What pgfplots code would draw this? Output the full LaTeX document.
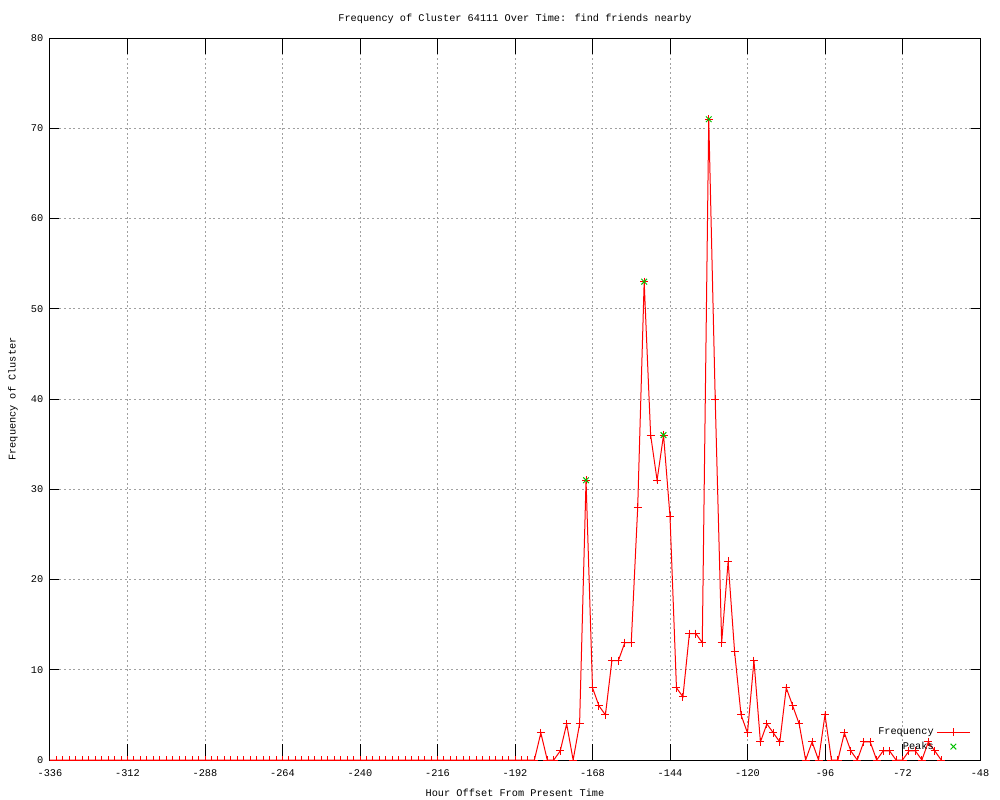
\documentclass[border=0pt]{standalone}
\usepackage{fontspec}
\setmainfont{Liberation Mono}
\usepackage{pgfplots}
\pgfplotsset{compat=1.18}
\definecolor{gpred}{RGB}{255,0,0}
\definecolor{gpgreen}{RGB}{0,192,0}
\definecolor{gpgrid}{RGB}{160,160,160}
\newcommand{\gpfont}{\fontsize{7.7pt}{9pt}\selectfont}
\pgfplotsset{
  widelegend/.style={legend image code/.code={%
    \draw[gpred,line width=0.75pt,mark=+,mark size=3pt,mark repeat=2,mark phase=2]
      plot coordinates {(0pt,0pt) (12.4pt,0pt) (24.8pt,0pt)};}},
  peaklegend/.style={legend image code/.code={%
    \path[draw=none,fill=none] (0pt,0pt) (24.8pt,0pt);
    \draw[gpgreen,line width=0.75pt,mark=x,mark size=3pt,only marks]
      plot coordinates {(12.4pt,0pt)};}},
}
\begin{document}
\begin{tikzpicture}
% 1px = 0.75pt; picture 1000x800px, axis frame 930x722px
\path[use as bounding box] (-37.5pt,-30pt) rectangle (712.5pt,570pt);
\begin{axis}[
    scale only axis,
    width=697.5pt,height=541.5pt,
    at={(0,0)},anchor=south west,
    xmin=-336,xmax=-48,
    ymin=0,ymax=80,
    xtick={-336,-312,...,-48},
    ytick={0,10,...,80},
    tick align=inside,
    major tick length=6.75pt,
    tick style={black,line width=0.75pt},
    xtick style={/pgfplots/major tick length=12pt},
    axis line style={black,line width=0.75pt},
    grid=major,
    grid style={gpgrid,line width=0.75pt,dash pattern=on 1.5pt off 2pt},
    clip marker paths=true,
    /pgf/number format/assume math mode=true,
    tick label style={font=\gpfont},
    xticklabel style={yshift=-3.75pt},
    yticklabel style={xshift=-1.5pt},
    label style={font=\gpfont},
    title style={font=\gpfont,at={(axis description cs:0.5,1)},anchor=center,yshift=8.25pt},
    title={Frequency of Cluster 64111 Over Time: find friends nearby},
    xlabel={Hour Offset From Present Time},
    ylabel={Frequency of Cluster},
    xlabel style={at={(axis description cs:0.5,0)},anchor=center,yshift=-24.75pt},
    ylabel style={at={(axis description cs:0,0.5)},anchor=center,rotate=0,yshift=27.75pt},
    legend plot pos=right,
    legend cell align=right,
    legend style={font=\gpfont,at={(axis description cs:0.99,0.008)},anchor=south east,
        draw=none,fill=none,inner sep=0pt,row sep=0pt},
]
\addplot[gpred,line width=0.75pt,mark=+,mark size=3pt,widelegend]
table[row sep=crcr]{
-336 0\\ -334 0\\ -332 0\\ -330 0\\ -328 0\\ -326 0\\ -324 0\\ -322 0\\
-320 0\\ -318 0\\ -316 0\\ -314 0\\ -312 0\\ -310 0\\ -308 0\\ -306 0\\
-304 0\\ -302 0\\ -300 0\\ -298 0\\ -296 0\\ -294 0\\ -292 0\\ -290 0\\
-288 0\\ -286 0\\ -284 0\\ -282 0\\ -280 0\\ -278 0\\ -276 0\\ -274 0\\
-272 0\\ -270 0\\ -268 0\\ -266 0\\ -264 0\\ -262 0\\ -260 0\\ -258 0\\
-256 0\\ -254 0\\ -252 0\\ -250 0\\ -248 0\\ -246 0\\ -244 0\\ -242 0\\
-240 0\\ -238 0\\ -236 0\\ -234 0\\ -232 0\\ -230 0\\ -228 0\\ -226 0\\
-224 0\\ -222 0\\ -220 0\\ -218 0\\ -216 0\\ -214 0\\ -212 0\\ -210 0\\
-208 0\\ -206 0\\ -204 0\\ -202 0\\ -200 0\\ -198 0\\ -196 0\\ -194 0\\
-192 0\\ -190 0\\ -188 0\\ -186 0\\
-184 3\\ -182 0\\ -180 0\\ -178 1\\ -176 4\\ -174 0\\ -172 4\\ -170 31\\
-168 8\\ -166 6\\ -164 5\\ -162 11\\ -160 11\\ -158 13\\ -156 13\\ -154 28\\
-152 53\\ -150 36\\ -148 31\\ -146 36\\ -144 27\\ -142 8\\ -140 7\\ -138 14\\
-136 14\\ -134 13\\ -132 71\\ -130 40\\ -128 13\\ -126 22\\ -124 12\\ -122 5\\
-120 3\\ -118 11\\ -116 2\\ -114 4\\ -112 3\\ -110 2\\ -108 8\\ -106 6\\
-104 4\\ -102 0\\ -100 2\\ -98 0\\ -96 5\\ -94 0\\ -92 0\\ -90 3\\
-88 1\\ -86 0\\ -84 2\\ -82 2\\ -80 0\\ -78 1\\ -76 1\\ -74 0\\
-72 0\\ -70 1\\ -68 1\\ -66 0\\ -64 2\\ -62 1\\ -60 0\\
};
\addlegendentry{Frequency}
\addplot[gpgreen,only marks,mark=x,mark size=3pt,line width=0.75pt,peaklegend] coordinates {
(-170,31) (-152,53) (-146,36) (-132,71)
};
\addlegendentry{Peaks}
\end{axis}
\end{tikzpicture}
\end{document}
